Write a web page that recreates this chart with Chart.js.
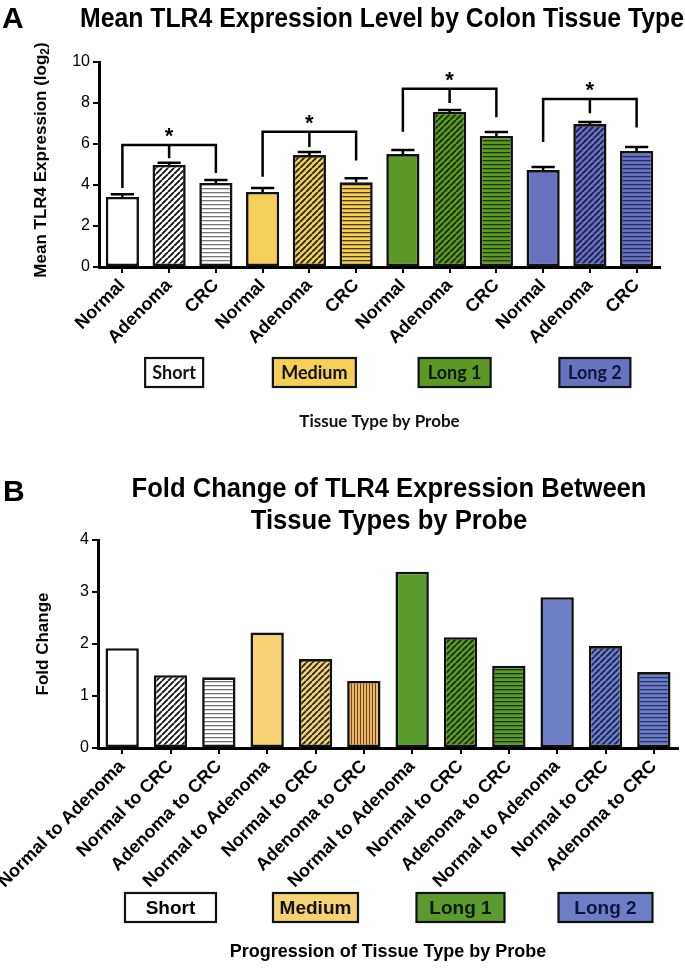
<!DOCTYPE html>
<html><head><meta charset="utf-8">
<script src="https://cdn.jsdelivr.net/npm/chart.js@4.4.1/dist/chart.umd.min.js"></script>
<style>
html,body{margin:0;padding:0;background:#fff;}
#wrap{position:relative;width:685px;height:971px;overflow:hidden;background:#fff;}
canvas{position:absolute;left:0;}
#c1{top:0;}
#c2{top:465px;}
</style></head><body>
<div id="wrap"><canvas id="c1" width="685" height="465"></canvas><canvas id="c2" width="685" height="506"></canvas></div>
<script>
// ---------------- data ----------------
const probes = ['Short', 'Medium', 'Long 1', 'Long 2'];
const tissues = ['Normal', 'Adenoma', 'CRC'];
const comparisons = ['Normal to Adenoma', 'Normal to CRC', 'Adenoma to CRC'];

const shortMean  = [3.42, 4.98, 4.10];
const mediumMean = [3.66, 5.46, 4.13];
const long1Mean  = [5.51, 7.56, 6.39];
const long2Mean  = [4.73, 6.97, 5.66];

const shortSem  = [0.13, 0.10, 0.14];
const mediumSem = [0.19, 0.15, 0.20];
const long1Sem  = [0.20, 0.10, 0.19];
const long2Sem  = [0.15, 0.10, 0.19];

const shortFold  = [1.92, 1.40, 1.36];
const mediumFold = [2.22, 1.71, 1.29];
const long1Fold  = [3.39, 2.13, 1.58];
const long2Fold  = [2.90, 1.96, 1.46];

// significance brackets (values on the y axis), one per probe group
const bracketTop      = [5.95, 6.6, 8.7, 8.2];
const bracketLeftEnd  = [3.85, 4.4, 6.6, 6.1];
const bracketMidEnd   = [5.3, 5.85, 8.0, 7.5];
const bracketRightEnd = [4.58, 5.2, 7.3, 6.8];

const yTopTicks = [0, 2, 4, 6, 8, 10];
const yBottomTicks = [0, 1, 2, 3, 4];

// ---------------- derived ----------------
const topLabels = probes.flatMap(() => tissues);
const bottomLabels = probes.flatMap(() => comparisons);
const topMeans = [...shortMean, ...mediumMean, ...long1Mean, ...long2Mean];
const topSems = [...shortSem, ...mediumSem, ...long1Sem, ...long2Sem];
const bottomFolds = [...shortFold, ...mediumFold, ...long1Fold, ...long2Fold];

const FONT = "'Liberation Sans', Arial, Helvetica, sans-serif";
Chart.defaults.font.family = FONT;
Chart.defaults.color = '#000';

// ---------------- patterns ----------------
function mk(ctx, w, h, draw) {
  const c = document.createElement('canvas'); c.width = w; c.height = h;
  const g = c.getContext('2d'); draw(g, w, h);
  return ctx.createPattern(c, 'repeat');
}
function diag(ctx, base, line, s = 6, lw = 1.8) {
  return mk(ctx, s, s, (g) => {
    g.fillStyle = base; g.fillRect(0, 0, s, s);
    g.strokeStyle = line; g.lineWidth = lw; g.beginPath();
    for (const k of [-s, 0, s]) { g.moveTo(k, s); g.lineTo(k + s, 0); }
    g.stroke();
  });
}
function horiz(ctx, base, line, s = 4, lw = 1.3) {
  return mk(ctx, 4, s, (g) => {
    g.fillStyle = base; g.fillRect(0, 0, 4, s);
    g.fillStyle = line; g.fillRect(0, 0, 4, lw);
  });
}
function vert(ctx, base, line, s = 3, lw = 1) {
  return mk(ctx, s, 4, (g) => {
    g.fillStyle = base; g.fillRect(0, 0, s, 4);
    g.fillStyle = line; g.fillRect(0, 0, lw, 4);
  });
}

const YEL = '#F4D05A', GRN = '#5C9826', BLU = '#6872BE';
const YEL2 = '#F5D374', ORG2 = '#EDB366', GRN2 = '#5B9A2C', BLU2 = '#6E7EC6';

function rotText(ctx, parts, cx, cy) {
  ctx.save();
  ctx.translate(cx, cy); ctx.rotate(-Math.PI / 2);
  let total = 0;
  parts.forEach(p => { ctx.font = p.font; p.w = ctx.measureText(p.t).width; total += p.w; });
  let x = -total / 2;
  ctx.textBaseline = 'middle'; ctx.textAlign = 'left'; ctx.fillStyle = '#000';
  parts.forEach(p => { ctx.font = p.font; ctx.fillText(p.t, x, p.dy || 0); x += p.w; });
  ctx.restore();
}

function legendBoxes(ctx, chart, widths, y, h, fills, textColors, font, offset) {
  const xs = chart.scales.x;
  probes.forEach((p, g) => {
    const cx = xs.getPixelForValue(g * 3 + 1) + offset;
    const w = widths[g];
    ctx.fillStyle = fills[g];
    ctx.fillRect(cx - w / 2, y, w, h);
    ctx.lineWidth = 2.2; ctx.strokeStyle = '#111';
    ctx.strokeRect(cx - w / 2, y, w, h);
    ctx.fillStyle = textColors[g]; ctx.font = font;
    ctx.textAlign = 'center'; ctx.textBaseline = 'middle';
    ctx.fillText(p, cx, y + h / 2 + 1, w - 4);
  });
}

// ---------------- chart A ----------------
const ctx1 = document.getElementById('c1').getContext('2d');
const topBg = [
  '#ffffff', diag(ctx1, '#ffffff', '#111'), horiz(ctx1, '#ffffff', '#777'),
  YEL, diag(ctx1, YEL, '#222'), horiz(ctx1, YEL, '#4a3c10'),
  GRN, diag(ctx1, GRN, '#1b2e0c'), horiz(ctx1, GRN, '#1f3a0c'),
  BLU, diag(ctx1, BLU, '#1c2050'), horiz(ctx1, BLU, '#262b66')
];

const decorA = {
  id: 'decorA',
  afterDatasetsDraw(chart) {
    const ctx = chart.ctx, xs = chart.scales.x, ys = chart.scales.y;
    const meta = chart.getDatasetMeta(0);
    ctx.save();
    ctx.strokeStyle = '#000'; ctx.lineWidth = 2.5; ctx.lineCap = 'butt';
    meta.data.forEach((bar, i) => {
      const yT = ys.getPixelForValue(topMeans[i] + topSems[i]);
      const half = bar.width * 0.35;
      ctx.beginPath();
      ctx.moveTo(bar.x, bar.y); ctx.lineTo(bar.x, yT);
      ctx.moveTo(bar.x - half, yT); ctx.lineTo(bar.x + half, yT);
      ctx.stroke();
    });
    for (let g = 0; g < 4; g++) {
      const xl = xs.getPixelForValue(g * 3), xm = xs.getPixelForValue(g * 3 + 1), xr = xs.getPixelForValue(g * 3 + 2);
      const yt = ys.getPixelForValue(bracketTop[g]);
      ctx.beginPath();
      ctx.moveTo(xl, ys.getPixelForValue(bracketLeftEnd[g])); ctx.lineTo(xl, yt);
      ctx.lineTo(xr, yt); ctx.lineTo(xr, ys.getPixelForValue(bracketRightEnd[g]));
      ctx.moveTo(xm, yt); ctx.lineTo(xm, ys.getPixelForValue(bracketMidEnd[g]));
      ctx.stroke();
      ctx.fillStyle = '#000'; ctx.font = 'bold 22px ' + FONT;
      ctx.textAlign = 'center'; ctx.textBaseline = 'alphabetic';
      ctx.fillText('*', xm, yt - 2);
    }
    ctx.restore();
  },
  afterDraw(chart) {
    const ctx = chart.ctx, ca = chart.chartArea;
    ctx.save();
    ctx.fillStyle = '#000';
    ctx.font = 'bold 30px ' + FONT; ctx.textAlign = 'left'; ctx.textBaseline = 'alphabetic';
    ctx.fillText('A', 2, 28);
    ctx.font = 'bold 27px ' + FONT; ctx.textAlign = 'center'; ctx.textBaseline = 'middle';
    ctx.fillText('Mean TLR4 Expression Level by Colon Tissue Type', 382, 20, 604);
    rotText(ctx, [
      { t: 'Mean TLR4 Expression (log', font: 'bold 17px ' + FONT },
      { t: '2', font: 'bold 12px ' + FONT, dy: 5 },
      { t: ')', font: 'bold 17px ' + FONT }
    ], 41, 160);
    legendBoxes(ctx, chart, [58, 83, 72, 71], 358, 29,
      ['#ffffff', YEL, GRN, BLU], ['#111', '#111', '#0e1a06', '#10153f'],
      "bold 18px Lato, 'Open Sans', sans-serif", 5);
    ctx.fillStyle = '#111'; ctx.font = "bold 17px Lato, 'Open Sans', sans-serif";
    ctx.textAlign = 'center'; ctx.textBaseline = 'middle';
    ctx.fillText('Tissue Type by Probe', (ca.left + ca.right) / 2, 422);
    ctx.restore();
  }
};

new Chart(ctx1, {
  type: 'bar',
  data: {
    labels: topLabels,
    datasets: [{
      data: topMeans,
      backgroundColor: topBg,
      borderColor: '#111',
      borderWidth: 2.6,
      borderSkipped: false,
      barPercentage: 0.71,
      categoryPercentage: 1.0
    }]
  },
  options: {
    responsive: false, animation: false,
    layout: { padding: { top: 62, right: 25, left: 0, bottom: 0 } },
    plugins: { legend: { display: false }, tooltip: { enabled: false }, title: { display: false } },
    scales: {
      x: {
        grid: { display: true, drawOnChartArea: false, offset: false, tickLength: 6, lineWidth: 2, color: '#000' },
        border: { display: true, width: 3, color: '#000' },
        ticks: { autoSkip: false, maxRotation: 45, minRotation: 45, padding: 2, color: '#000', font: { size: 18, weight: 'bold' } },
        afterFit(s) { s.height = 198; s.paddingLeft = 0; s.paddingRight = 0; }
      },
      y: {
        min: yTopTicks[0], max: yTopTicks[yTopTicks.length - 1],
        afterBuildTicks(s) { s.ticks = yTopTicks.map(v => ({ value: v })); },
        grid: { display: true, drawOnChartArea: false, tickLength: 6, lineWidth: 2, color: '#000' },
        border: { display: true, width: 3, color: '#000' },
        ticks: { padding: 3, color: '#000', font: { size: 16 } },
        afterFit(s) { s.width = 99; }
      }
    }
  },
  plugins: [decorA]
});

// ---------------- chart B ----------------
const ctx2 = document.getElementById('c2').getContext('2d');
const botBg = [
  '#ffffff', diag(ctx2, '#ffffff', '#111'), horiz(ctx2, '#ffffff', '#777'),
  YEL2, diag(ctx2, YEL2, '#222'), vert(ctx2, ORG2, '#6a4a1c'),
  GRN2, diag(ctx2, GRN2, '#1b2e0c'), horiz(ctx2, GRN2, '#1f3a0c'),
  BLU2, diag(ctx2, BLU2, '#1c2050'), horiz(ctx2, BLU2, '#2a3070')
];

const decorB = {
  id: 'decorB',
  afterDraw(chart) {
    const ctx = chart.ctx, ca = chart.chartArea;
    ctx.save();
    ctx.fillStyle = '#000';
    ctx.font = 'bold 30px ' + FONT; ctx.textAlign = 'left'; ctx.textBaseline = 'alphabetic';
    ctx.fillText('B', 3, 36);
    ctx.font = 'bold 27px ' + FONT; ctx.textAlign = 'center'; ctx.textBaseline = 'middle';
    const l1 = 'Fold Change of TLR4 Expression Between', l2 = 'Tissue Types by Probe';
    const nat = ctx.measureText(l1).width;
    const sx = Math.min(1, 515 / nat);
    ctx.fillText(l1, 389, 25, nat * sx);
    ctx.fillText(l2, 389, 57, ctx.measureText(l2).width * sx);
    rotText(ctx, [{ t: 'Fold Change', font: 'bold 17px ' + FONT }], 43, (ca.top + ca.bottom) / 2);
    legendBoxes(ctx, chart, [91, 85, 88, 94], 428, 29,
      ['#ffffff', YEL2, GRN2, BLU2], ['#000', '#111', '#0e1a06', '#10153f'],
      'bold 19px ' + FONT, 0);
    ctx.fillStyle = '#000'; ctx.font = 'bold 18px ' + FONT;
    ctx.textAlign = 'center'; ctx.textBaseline = 'middle';
    ctx.fillText('Progression of Tissue Type by Probe', (ca.left + ca.right) / 2, 487);
    ctx.restore();
  }
};

new Chart(ctx2, {
  type: 'bar',
  data: {
    labels: bottomLabels,
    datasets: [{
      data: bottomFolds,
      backgroundColor: botBg,
      borderColor: '#111',
      borderWidth: 2.6,
      borderSkipped: false,
      barPercentage: 0.69,
      categoryPercentage: 1.0
    }]
  },
  options: {
    responsive: false, animation: false,
    layout: { padding: { top: 75, right: 7, left: 0, bottom: 0 } },
    plugins: { legend: { display: false }, tooltip: { enabled: false }, title: { display: false } },
    scales: {
      x: {
        grid: { display: true, drawOnChartArea: false, offset: false, tickLength: 6, lineWidth: 2, color: '#000' },
        border: { display: true, width: 3, color: '#000' },
        ticks: { autoSkip: false, maxRotation: 45, minRotation: 45, padding: 2, color: '#000', font: { size: 18, weight: 'bold' } },
        afterFit(s) { s.height = 223; s.paddingLeft = 0; s.paddingRight = 0; }
      },
      y: {
        min: yBottomTicks[0], max: yBottomTicks[yBottomTicks.length - 1],
        afterBuildTicks(s) { s.ticks = yBottomTicks.map(v => ({ value: v })); },
        grid: { display: true, drawOnChartArea: false, tickLength: 6, lineWidth: 2, color: '#000' },
        border: { display: true, width: 3, color: '#000' },
        ticks: { padding: 3, color: '#000', font: { size: 16 } },
        afterFit(s) { s.width = 98; }
      }
    }
  },
  plugins: [decorB]
});
</script>
</body></html>
